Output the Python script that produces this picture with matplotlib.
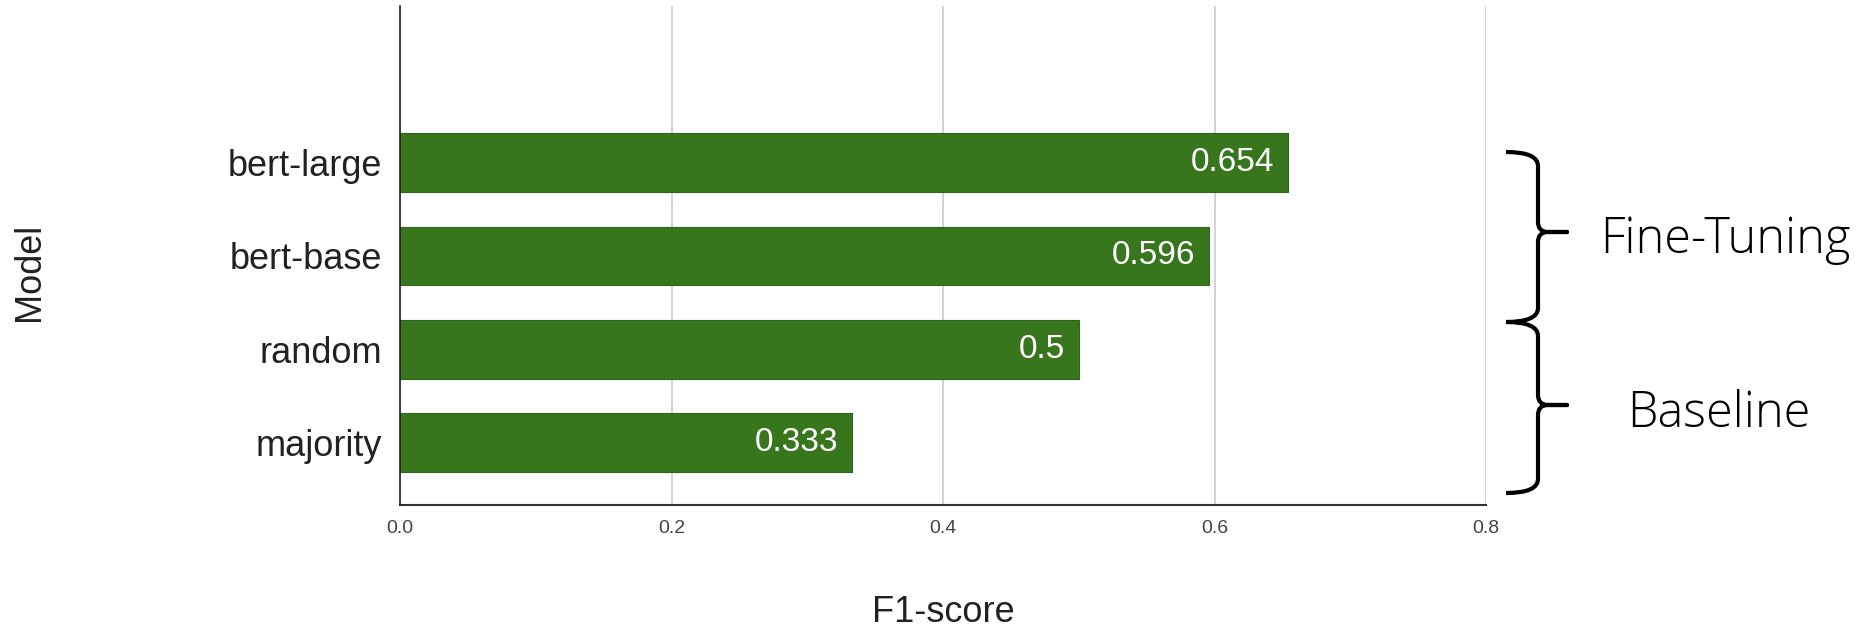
import matplotlib
matplotlib.use("Agg")
import matplotlib.pyplot as plt
from matplotlib.path import Path
from matplotlib.patches import PathPatch

# --- DATA ---
models = ["majority", "random", "bert-base", "bert-large"]
f1_scores = [0.333, 0.5, 0.596, 0.654]
x_ticks = [0.0, 0.2, 0.4, 0.6, 0.8]
groups = ["Fine-Tuning", "Baseline"]

BAR_COLOR = "#38761d"
plt.rcParams["font.family"] = ["Liberation Sans", "DejaVu Sans"]

W, H = 1864, 629
fig = plt.figure(figsize=(W / 100, H / 100), dpi=100)
ax = fig.add_axes([400 / W, 1 - 505 / H, 1086 / W, 499 / H])

ypos = list(range(len(models)))
bars = ax.barh(ypos, f1_scores, height=0.63, color=BAR_COLOR,
               edgecolor="#2f6418", linewidth=0.8, zorder=3)

for b, v in zip(bars, f1_scores):
    ax.annotate(f"{v:g}", xy=(b.get_width(), b.get_y() + b.get_height() / 2),
                xytext=(-10, 0), textcoords="offset points",
                ha="right", va="center", color="white", fontsize=24, zorder=4)

ax.set_xlim(0, 0.8)
ax.set_ylim(-0.67, 4.68)
ax.set_xticks(x_ticks)
ax.set_xticklabels([f"{t:.1f}" for t in x_ticks], fontsize=14, color="#444444")
ax.set_yticks(ypos)
ax.set_yticklabels(models, fontsize=26, color="#222222")
ax.tick_params(axis="x", length=0, pad=11)
ax.tick_params(axis="y", length=0, pad=13)
ax.grid(axis="x", color="#cccccc", linewidth=1.2, zorder=0)
ax.set_axisbelow(True)

for s in ["top", "right"]:
    ax.spines[s].set_visible(False)
ax.spines["left"].set_color("#222222")
ax.spines["left"].set_linewidth(1.2)
ax.spines["bottom"].set_color("#333333")
ax.spines["bottom"].set_linewidth(1.5)
ax.spines["left"].set_zorder(5)

fig.text(943 / W, 1 - 612 / H, "F1-score", ha="center", va="center", fontsize=26, color="#222222")
fig.text(29 / W, 1 - 272 / H, "Model", ha="center", va="center", rotation=90,
         fontsize=26, color="#222222")

# --- braces, drawn in pixel coordinates on an overlay ---
ov = fig.add_axes([0, 0, 1, 1])
ov.set_xlim(0, W)
ov.set_ylim(H, 0)
ov.axis("off")


def brace(x0, xv, xt, y_top, y_bot, y_mid, r=14, rt=10):
    verts = [(x0, y_top), (xv, y_top), (xv, y_top + r),
             (xv, y_mid - rt), (xv, y_mid), (xv + rt, y_mid),
             (xt, y_mid), (xv + rt, y_mid),
             (xv, y_mid), (xv, y_mid + rt),
             (xv, y_bot - r), (xv, y_bot), (x0, y_bot)]
    codes = [Path.MOVETO, Path.CURVE3, Path.CURVE3,
             Path.LINETO, Path.CURVE3, Path.CURVE3,
             Path.LINETO, Path.LINETO,
             Path.CURVE3, Path.CURVE3,
             Path.LINETO, Path.CURVE3, Path.CURVE3]
    ov.add_patch(PathPatch(Path(verts, codes), fill=False, edgecolor="black",
                           linewidth=3, capstyle="butt", joinstyle="round"))


brace(1506, 1538, 1567, 152, 322, 232)
brace(1506, 1538, 1567, 322, 493, 405)

ov.text(1725, 253, groups[0], ha="center", va="baseline", fontsize=35,
        family=["Open Sans", "DejaVu Sans"], fontweight="light", color="black")
ov.text(1719, 427, groups[1], ha="center", va="baseline", fontsize=35,
        family=["Open Sans", "DejaVu Sans"], fontweight="light", color="black")

fig.savefig("out.png", dpi=100, facecolor="white")
